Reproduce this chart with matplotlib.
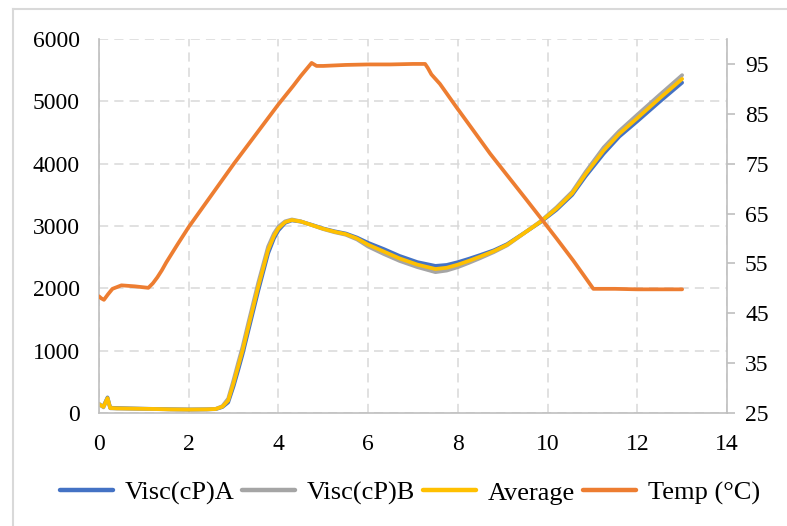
import matplotlib
matplotlib.use("Agg")
import matplotlib.pyplot as plt
from matplotlib.lines import Line2D

plt.rcParams['font.family'] = ['Liberation Serif', 'DejaVu Serif']

# ---- data ----
time_visc = [0.0, 0.1, 0.19, 0.25, 0.4, 0.8, 1.2, 1.6, 2.0, 2.4, 2.6, 2.75, 2.88, 3.0, 3.1,
             3.2, 3.33, 3.55, 3.77, 3.9, 4.0, 4.15, 4.3, 4.5, 4.74, 5.0, 5.25, 5.5, 5.75,
             6.0, 6.35, 6.7, 7.1, 7.5, 7.75, 8.0, 8.25, 8.5, 8.8, 9.1, 9.45, 9.85, 10.2,
             10.55, 10.85, 11.25, 11.6, 12.0, 12.5, 13.0]
visc_a = [130, 110, 250, 85, 80, 72, 66, 60, 56, 58, 62, 95, 170, 430, 680,
          940, 1320, 1960, 2560, 2800, 2930, 3050, 3090, 3070, 3020, 2960, 2915, 2880, 2815,
          2730, 2630, 2520, 2420, 2360, 2375, 2420, 2475, 2535, 2610, 2710, 2875, 3065, 3260,
          3500, 3800, 4160, 4435, 4680, 4995, 5300]
visc_b = [150, 90, 230, 75, 70, 68, 64, 56, 54, 58, 66, 110, 230, 530, 800,
          1060, 1450, 2090, 2670, 2880, 2990, 3075, 3105, 3075, 3015, 2950, 2900, 2860, 2785,
          2670, 2550, 2440, 2340, 2260, 2285, 2340, 2410, 2485, 2580, 2690, 2870, 3080, 3300,
          3550, 3870, 4260, 4525, 4785, 5105, 5420]
visc_avg = [140, 100, 240, 80, 75, 70, 65, 58, 55, 58, 64, 102, 200, 480, 740,
            1000, 1385, 2026, 2615, 2840, 2962, 3062, 3096, 3072, 3016, 2955, 2908, 2870, 2800,
            2700, 2590, 2480, 2380, 2310, 2330, 2380, 2442, 2510, 2595, 2700, 2872, 3072, 3280,
            3525, 3835, 4210, 4480, 4730, 5050, 5360]

time_temp = [0.0, 0.05, 0.11, 0.2, 0.3, 0.5, 0.8, 1.1, 1.2, 1.3, 1.4, 1.5, 1.75, 2.0,
             2.5, 3.0, 3.5, 4.0, 4.33, 4.5, 4.74, 4.85, 5.0, 5.5, 6.0, 6.5, 7.0, 7.27,
             7.33, 7.41, 7.6, 7.97, 8.35, 8.72, 9.0, 9.5, 9.83, 10.2, 10.57, 10.8, 11.02,
             11.5, 12.0, 12.5, 13.0]
temp = [48.4, 48.0, 47.7, 48.8, 49.9, 50.6, 50.4, 50.1, 51.0, 52.2, 53.6, 55.2, 58.8, 62.3,
        68.6, 74.9, 80.9, 86.9, 90.6, 92.6, 95.2, 94.6, 94.6, 94.8, 94.9, 94.9, 95.0, 95.0,
        94.2, 92.9, 91.0, 86.3, 81.6, 77.0, 73.8, 68.1, 64.3, 60.0, 55.6, 52.7, 49.9,
        49.9, 49.8, 49.8, 49.8]

x_ticks = [0, 2, 4, 6, 8, 10, 12, 14]
left_ticks = [0, 1000, 2000, 3000, 4000, 5000, 6000]
right_ticks = [25, 35, 45, 55, 65, 75, 85, 95]
labels = ['Visc(cP)A', 'Visc(cP)B', 'Average', 'Temp (°C)']

# ---- figure ----
W, H = 787, 526
fig = plt.figure(figsize=(W / 100, H / 100), dpi=100)
ax = fig.add_axes([99 / W, 1 - 413 / H, (727 - 99) / W, (413 - 39) / H])
ax2 = ax.twinx()

lw = 2.7
kw = dict(lw=lw, solid_joinstyle='round', solid_capstyle='round')
l1, = ax.plot(time_visc, visc_a, color='#4472C4', **kw)
l2, = ax.plot(time_visc, visc_b, color='#A5A5A5', **kw)
l3, = ax.plot(time_visc, visc_avg, color='#FFC000', **kw)
l4, = ax2.plot(time_temp, temp, color='#ED7D31', **kw)

ax.set_xlim(0, 14)
ax.set_ylim(0, 6000)
ax2.set_ylim(25, 100)
ax.set_xticks(x_ticks)
ax.set_yticks(left_ticks)
ax2.set_yticks(right_ticks)

grid_color = '#d9d9d9'
ax.grid(True, color=grid_color, lw=1.1, linestyle=(0, (6, 4)))
ax.set_axisbelow(True)

spine_color = '#bfbfbf'
for a in (ax, ax2):
    a.spines['top'].set_visible(False)
    for s in ('left', 'right', 'bottom'):
        a.spines[s].set_color(spine_color)
        a.spines[s].set_linewidth(1.2)
ax.spines['right'].set_visible(False)
ax2.spines['left'].set_visible(False)
ax2.spines['bottom'].set_visible(False)

ax.tick_params(axis='y', length=0, pad=14, labelsize=17)
ax.tick_params(axis='x', length=0, pad=15, labelsize=17)
ax2.tick_params(axis='y', length=6, width=1.2, color=spine_color, pad=7, labelsize=17)

leg_handles = [Line2D([], [], color=l.get_color(), lw=3.2, solid_capstyle='round')
               for l in (l1, l2, l3, l4)]
fig.legend(leg_handles, labels, loc='center', bbox_to_anchor=(410 / W, 1 - 493 / H),
           ncol=4, frameon=False, fontsize=19, handlelength=2.0, handletextpad=0.45,
           columnspacing=0.3, borderaxespad=0)

# chart-area border (left and top edges visible)
fig.add_artist(Line2D([13 / W, 13 / W], [0, 1 - 9 / H], transform=fig.transFigure,
                      color='#d9d9d9', lw=1.5))
fig.add_artist(Line2D([13 / W, 1], [1 - 9 / H, 1 - 9 / H], transform=fig.transFigure,
                      color='#d9d9d9', lw=1.5))

fig.savefig('out.png', dpi=100)
